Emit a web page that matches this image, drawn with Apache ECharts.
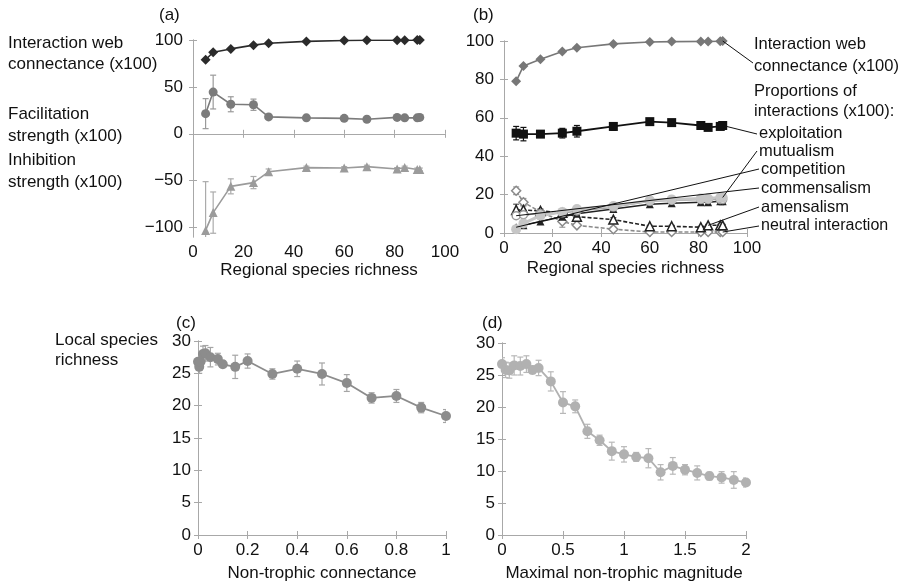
<!DOCTYPE html>
<html>
<head>
<meta charset="utf-8">
<script src="https://cdn.jsdelivr.net/npm/echarts@6/dist/echarts.min.js"></script>
<style>
  html, body { margin: 0; padding: 0; background: #fff; }
  #chart { width: 906px; height: 585px; }
</style>
</head>
<body>
<div id="chart"></div>
<script>
// panels (a) and (b): regional species richness
const richness = [5, 8, 15, 24, 30, 45, 60, 69, 81, 84, 89, 90];
const connectance = [79, 87, 90.5, 94.5, 96.5, 98.5, 99.5, 99.7, 99.8, 99.8, 99.9, 100];
const facilitation = [21.5, 44.5, 31.5, 31, 18, 17, 16.5, 15.5, 17.5, 17, 17, 17.5];
const facilitationErr = [16, 18, 8, 6, 2, 1, 1, 1, 1, 1, 1, 1];
const inhibition = [-103, -84, -56, -52, -40.5, -36, -36.5, -35, -37.5, -36, -38, -38];
const inhibitionErr = [52, 22, 8, 6.5, 3, 1.5, 1.5, 1.5, 1.5, 1.5, 1.5, 1.5];

const exploitation = [52, 51.5, 51.5, 52, 53, 55.5, 58, 57.5, 56, 55, 55.5, 56];
const exploitationErr = [3.5, 3.5, 1.5, 2.5, 3, 2, 1, 1, 1, 1, 1, 1];
const mutualism = [2, 5, 9, 11, 12.5, 14, 17, 17.5, 18, 18, 18.5, 18.5];
const competition = [3, 4, 6, 8.5, 10, 12.5, 15, 15.5, 16, 16, 16.5, 16.5];
const commensalism = [9, 9.5, 10, 10.5, 11.5, 13.5, 16.5, 17, 17.5, 17.5, 17.5, 17.5];
const amensalism = [12, 12, 11.5, 10.5, 8.5, 7, 3.5, 3.5, 3, 4, 4, 4];
const amensalismErr = [3, 2.5, 1, 1, 1, 1, 0.5, 0.5, 0.5, 0.5, 0.5, 0.5];
const neutral = [22, 16, 11, 6, 4, 2, 0.5, 0.5, 0.5, 0.5, 0.5, 0.5];
const neutralErr = [2, 2, 1, 3, 1, 1, 0.5, 0.5, 0.5, 0.5, 0.5, 0.5];

// panel (c): non-trophic connectance
const ntConnectance = [0, 0.005, 0.01, 0.02, 0.03, 0.05, 0.08, 0.1, 0.15, 0.2, 0.3, 0.4, 0.5, 0.6, 0.7, 0.8, 0.9, 1];
const localRichnessC = [26.8, 26.0, 26.8, 28.0, 28.1, 27.5, 27.2, 26.4, 26.0, 26.9, 24.9, 25.7, 24.9, 23.5, 21.2, 21.5, 19.7, 18.4];
const localRichnessCErr = [0.8, 1, 0.8, 1.2, 1.2, 1.5, 0.9, 0.5, 1.8, 1.1, 0.8, 1.2, 1.7, 1.3, 0.8, 1, 0.8, 1];

// panel (d): maximal non-trophic magnitude
const ntMagnitude = [0, 0.03, 0.06, 0.1, 0.15, 0.2, 0.25, 0.3, 0.4, 0.5, 0.6, 0.7, 0.8, 0.9, 1, 1.1, 1.2, 1.3, 1.4, 1.5, 1.6, 1.7, 1.8, 1.9, 2];
const localRichnessD = [26.7, 25.8, 25.7, 26.5, 26.4, 26.7, 25.8, 26.1, 24.0, 20.7, 20.1, 16.2, 14.8, 13.1, 12.6, 12.2, 12.0, 9.8, 10.8, 10.2, 9.7, 9.2, 9.0, 8.6, 8.2];
const localRichnessDErr = [1, 1.2, 1.2, 1.5, 1.4, 1.3, 0.6, 1.2, 1.5, 1.7, 1.0, 1.1, 0.8, 1.4, 1.2, 0.7, 1.5, 1.2, 1.3, 0.8, 1.1, 0.6, 0.9, 1.3, 0.7];

const FONT = 'Liberation Sans';
const FS = 17;
const AXIS_COLOR = '#a8a8a8';
const minusFmt = function (v) { return v < 0 ? '\u2212' + Math.abs(v) : String(v); };

function xAxisPair(grid, min, max, interval, name, gap) {
  const base = {
    gridIndex: grid, type: 'value', min: min, max: max, interval: interval,
    splitLine: { show: false },
    axisLine: { lineStyle: { color: AXIS_COLOR, width: 1 } },
    axisTick: { inside: true, length: 4, lineStyle: { color: AXIS_COLOR } }
  };
  return [
    Object.assign({}, base, {
      position: 'bottom',
      name: name, nameLocation: 'middle', nameGap: gap,
      nameTextStyle: { fontFamily: FONT, fontSize: FS, color: '#111' },
      axisLabel: { fontFamily: FONT, fontSize: FS, color: '#111', margin: 7 }
    }),
    Object.assign({}, base, { position: 'top', axisLabel: { show: false } })
  ];
}

function yAxisPair(grid, min, max, interval, ticks, margin) {
  const base = {
    gridIndex: grid, type: 'value', min: min, max: max,
    splitLine: { show: false },
    axisLine: { show: true, lineStyle: { color: AXIS_COLOR, width: 1 } },
    axisTick: { show: true, inside: true, length: 4, lineStyle: { color: AXIS_COLOR } }
  };
  if (ticks) {
    base.axisTick.customValues = ticks;
  } else {
    base.interval = interval;
  }
  const left = Object.assign({}, base, {
    position: 'left',
    axisLabel: { fontFamily: FONT, fontSize: FS, color: '#111', margin: margin, formatter: minusFmt }
  });
  if (ticks) left.axisLabel.customValues = ticks;
  return [left, Object.assign({}, base, { position: 'right', axisLabel: { show: false } })];
}

function lineSeries(axis, xs, ys, opt) {
  return {
    type: 'line', xAxisIndex: axis, yAxisIndex: axis,
    data: xs.map(function (x, i) { return [x, ys[i]]; }),
    symbol: opt.symbol, symbolSize: opt.size || 9,
    showSymbol: true, animation: false, z: opt.z || 3,
    lineStyle: { color: opt.line || opt.color, width: opt.width || 1.6, type: opt.dash ? [4, 2] : 'solid' },
    itemStyle: opt.hollow
      ? { color: '#fff', borderColor: opt.color, borderWidth: 1.5, opacity: 1 }
      : { color: opt.color, opacity: 1 }
  };
}

function errorBars(axis, xs, ys, errs, color) {
  return {
    type: 'custom', xAxisIndex: axis, yAxisIndex: axis, clip: true, z: 2, animation: false,
    data: xs.map(function (x, i) { return [x, ys[i] - errs[i], ys[i] + errs[i]]; }),
    renderItem: function (params, api) {
      const lo = api.coord([api.value(0), api.value(1)]);
      const hi = api.coord([api.value(0), api.value(2)]);
      const w = 3;
      const st = { stroke: color, lineWidth: 1.2 };
      return {
        type: 'group',
        children: [
          { type: 'line', shape: { x1: lo[0], y1: lo[1], x2: hi[0], y2: hi[1] }, style: st },
          { type: 'line', shape: { x1: lo[0] - w, y1: lo[1], x2: lo[0] + w, y2: lo[1] }, style: st },
          { type: 'line', shape: { x1: hi[0] - w, y1: hi[1], x2: hi[0] + w, y2: hi[1] }, style: st }
        ]
      };
    }
  };
}

const ax = [
  xAxisPair(0, 0, 100, 20, 'Regional species richness', 25),
  xAxisPair(1, 0, 100, 20, 'Regional species richness', 27),
  xAxisPair(2, 0, 1, 0.2, 'Non-trophic connectance', 30),
  xAxisPair(3, 0, 2, 0.5, 'Maximal non-trophic magnitude', 30)
];
const ay = [
  yAxisPair(0, -110, 100, null, [-100, -50, 0, 50, 100], 10),
  yAxisPair(1, 0, 100, 20, null, 10),
  yAxisPair(2, 0, 30, 5, null, 7),
  yAxisPair(3, 0, 30, 5, null, 7)
];

const chart = echarts.init(document.getElementById('chart'), null, { renderer: 'canvas' });

const option = {
  backgroundColor: '#fff',
  animation: false,
  textStyle: { fontFamily: FONT },
  grid: [
    { left: 193, top: 40, width: 252, height: 197 },
    { left: 504, top: 41, width: 243, height: 192 },
    { left: 198, top: 341, width: 248, height: 194 },
    { left: 502, top: 343, width: 244, height: 192 }
  ],
  xAxis: [ax[0][0], ax[1][0], ax[2][0], ax[3][0], ax[0][1], ax[1][1], ax[2][1], ax[3][1]],
  yAxis: [ay[0][0], ay[1][0], ay[2][0], ay[3][0], ay[0][1], ay[1][1], ay[2][1], ay[3][1]],
  series: [
    // (a)
    errorBars(0, richness, facilitation, facilitationErr, '#9a9a9a'),
    errorBars(0, richness, inhibition, inhibitionErr, '#ababab'),
    lineSeries(0, richness, connectance, { symbol: 'diamond', color: '#2b2b2b', size: 10 }),
    lineSeries(0, richness, facilitation, { symbol: 'circle', color: '#7b7b7b', size: 9 }),
    lineSeries(0, richness, inhibition, { symbol: 'triangle', color: '#9b9b9b', size: 9 }),
    // (b)
    errorBars(1, richness, exploitation, exploitationErr, '#111'),
    errorBars(1, richness, amensalism, amensalismErr, '#555'),
    errorBars(1, richness, neutral, neutralErr, '#999'),
    lineSeries(1, richness, connectance, { symbol: 'diamond', color: '#777', size: 10 }),
    lineSeries(1, richness, exploitation, { symbol: 'rect', color: '#111', size: 9, width: 1.8 }),
    lineSeries(1, richness, neutral, { symbol: 'diamond', color: '#8a8a8a', hollow: true, dash: true, size: 9 }),
    lineSeries(1, richness, amensalism, { symbol: 'triangle', color: '#222', hollow: true, dash: true, size: 9 }),
    lineSeries(1, richness, competition, { symbol: 'triangle', color: '#222', size: 8 }),
    lineSeries(1, richness, commensalism, { symbol: 'circle', color: '#999', hollow: true, size: 8 }),
    lineSeries(1, richness, mutualism, { symbol: 'circle', color: '#c6c6c6', size: 10, width: 3 }),
    // (c)
    errorBars(2, ntConnectance, localRichnessC, localRichnessCErr, '#a5a5a5'),
    lineSeries(2, ntConnectance, localRichnessC, { symbol: 'circle', color: '#8c8c8c', size: 10, width: 1.8 }),
    // (d)
    errorBars(3, ntMagnitude, localRichnessD, localRichnessDErr, '#b8b8b8'),
    lineSeries(3, ntMagnitude, localRichnessD, { symbol: 'circle', color: '#b1b1b1', size: 10, width: 1.8 })
  ]
};
chart.setOption(option);

// annotation texts and leader lines
function txt(x, y, s, size) {
  return { type: 'text', x: x, y: y, style: { text: s, fontFamily: FONT, fontSize: size || FS, fill: '#111', verticalAlign: 'middle' } };
}
function leader(dataPt, labelPt) {
  const p = chart.convertToPixel({ xAxisIndex: 1, yAxisIndex: 1 }, dataPt);
  return { type: 'line', shape: { x1: p[0], y1: p[1], x2: labelPt[0], y2: labelPt[1] }, style: { stroke: '#111', lineWidth: 1 }, z: 10 };
}

const last = richness.length - 1;
const graphics = [
  txt(159, 15, '(a)'), txt(473, 15, '(b)'), txt(176, 323, '(c)'), txt(482, 323, '(d)'),
  txt(8, 43, 'Interaction web'), txt(8, 64, 'connectance (x100)'),
  txt(8, 114, 'Facilitation'), txt(8, 136, 'strength (x100)'),
  txt(8, 160, 'Inhibition'), txt(8, 182, 'strength (x100)'),
  txt(55, 340, 'Local species'), txt(55, 360, 'richness'),
  txt(754, 44, 'Interaction web', 16.5), txt(754, 66, 'connectance (x100)', 16.5),
  txt(754, 91, 'Proportions of', 16.5), txt(754, 111, 'interactions (x100):', 16.5),
  txt(759, 133, 'exploitation', 16.5), txt(759, 151, 'mutualism', 16.5),
  txt(761, 169, 'competition', 16.5), txt(761, 188, 'commensalism', 16.5),
  txt(761, 207, 'amensalism', 16.5), txt(761, 226, 'neutral interaction', 16),
  leader([richness[last], connectance[last]], [753, 63]),
  leader([richness[last], exploitation[last]], [757, 134]),
  leader([richness[last], mutualism[last]], [757, 151]),
  leader([richness[0], competition[0]], [759, 169]),
  leader([richness[0], commensalism[0]], [759, 188]),
  leader([richness[9], amensalism[9]], [759, 207]),
  leader([richness[last], neutral[last]], [759, 226])
];
chart.setOption({ graphic: graphics });
</script>
</body>
</html>
